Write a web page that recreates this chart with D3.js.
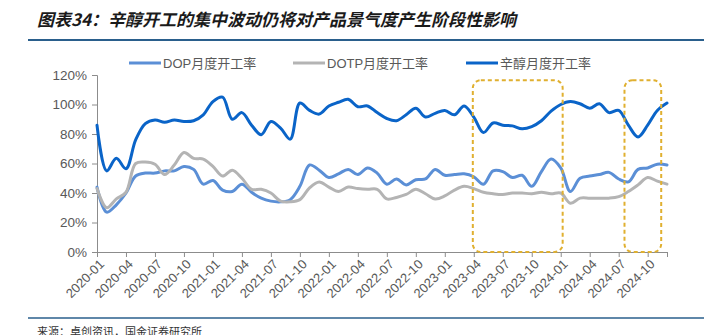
<!DOCTYPE html>
<html>
<head>
<meta charset="utf-8">
<script src="https://cdn.jsdelivr.net/npm/d3@7"></script>
<style>
  body { margin: 0; background: #fff; }
  svg { display: block; }
</style>
</head>
<body>
<div id="chart"></div>
<script>
// months 2020-01 .. 2024-12
const months = [
  "2020-01","2020-02","2020-03","2020-04","2020-05","2020-06","2020-07","2020-08","2020-09","2020-10","2020-11","2020-12",
  "2021-01","2021-02","2021-03","2021-04","2021-05","2021-06","2021-07","2021-08","2021-09","2021-10","2021-11","2021-12",
  "2022-01","2022-02","2022-03","2022-04","2022-05","2022-06","2022-07","2022-08","2022-09","2022-10","2022-11","2022-12",
  "2023-01","2023-02","2023-03","2023-04","2023-05","2023-06","2023-07","2023-08","2023-09","2023-10","2023-11","2023-12",
  "2024-01","2024-02","2024-03","2024-04","2024-05","2024-06","2024-07","2024-08","2024-09","2024-10","2024-11","2024-12"
];

const dop = [44, 27, 32, 40, 51.5, 53.5, 53.5, 55, 55, 58, 56, 46,
  48.5, 42, 41, 46, 40.5, 36.5, 34.5, 34, 35.5, 44.5, 59, 55.5,
  50.5, 53, 56, 52.5, 57, 53.5, 46, 49.5, 45.5, 49, 49.5, 56,
  52, 52.5, 53, 51, 46, 55, 54.5, 50.5, 52, 44.5, 54.5, 63,
  57, 41, 50, 51.5, 52.5, 54, 49.5, 47.5, 56, 57, 59.5, 59];

const dotp = [43, 30, 36, 40.5, 60, 61, 59.5, 52.5, 59, 67.5, 63.5, 63,
  58, 51.5, 55.5, 50, 42.5, 42.5, 40, 34.5, 34, 35.5, 43.5, 47.5,
  44, 41, 44, 43, 42.5, 42.5, 36, 37, 39, 42.5, 39.5, 36,
  38, 42, 44.5, 43, 40.5, 39.5, 39, 40, 40, 39.5, 40.5, 39.5,
  40, 33, 36.5, 36.5, 36.5, 36.5, 37.5, 41, 45.5, 50.5, 48, 46];

const octanol = [86, 55, 63.5, 56.5, 76, 87, 89.5, 88, 89.5, 88.5, 89, 93,
  102, 105, 90, 94.5, 86, 79.5, 88.5, 84, 76.5, 101, 96, 93.5,
  99, 101.5, 103.5, 98.5, 99, 94.5, 90.5, 89, 93, 97.5, 91.5, 94,
  96, 93, 99, 91.5, 81, 87.5, 86, 85.5, 83.5, 85, 89, 95.5,
  100, 102, 100.5, 97.5, 100.5, 94.5, 96, 86, 78, 86, 96, 101];

const seriesNames = ["DOP月度开工率", "DOTP月度开工率", "辛醇月度开工率"];
const seriesColors = ["#5b8fd6", "#b4b4b4", "#0a64c8"];
const yTicks = [0, 20, 40, 60, 80, 100, 120];
const xTickIdx = d3.range(0, 58, 3);

// highlighted periods: [start index, end index, bottom %, top %]
const boxes = [[38.9, 48.2, 0, 116.5], [54.6, 58.4, 0, 116.5]];

const W = 704, H = 335;
const margin = { top: 75, right: 37, bottom: 83, left: 97 };

const svg = d3.select("#chart").append("svg")
  .attr("width", W)
  .attr("height", H);

const x = d3.scaleLinear()
  .domain([0, months.length - 1])
  .range([margin.left, W - margin.right]);

const y = d3.scaleLinear()
  .domain([0, 120])
  .range([H - margin.bottom, margin.top]);

// title
svg.append("text")
  .attr("x", 37)
  .attr("y", 26)
  .attr("font-family", "'Noto Sans CJK SC', sans-serif")
  .attr("font-size", 17)
  .attr("font-weight", "bold")
  .attr("font-style", "italic")
  .attr("fill", "#1a1a1a")
  .text("图表34：辛醇开工的集中波动仍将对产品景气度产生阶段性影响");

svg.append("line")
  .attr("x1", 28).attr("x2", W)
  .attr("y1", 40).attr("y2", 40)
  .attr("stroke", "#2a5f8c")
  .attr("stroke-width", 2);

// axes
const yAxis = d3.axisLeft(y)
  .tickValues(yTicks)
  .tickFormat(d => d + "%")
  .tickSize(5);

svg.append("g")
  .attr("transform", `translate(${margin.left},0)`)
  .call(yAxis)
  .call(g => g.selectAll("path, line").attr("stroke", "#8c8c8c"))
  .call(g => g.selectAll("text")
    .attr("fill", "#595959")
    .attr("font-family", "'Liberation Sans', Arial, sans-serif")
    .attr("font-size", 13.5)
    .attr("dx", "-2"));

const xAxis = d3.axisBottom(x)
  .tickValues(xTickIdx.concat([months.length - 1]))
  .tickFormat(i => i < months.length - 1 ? months[i] : "")
  .tickSize(5)
  .tickSizeOuter(0);

svg.append("g")
  .attr("transform", `translate(0,${H - margin.bottom})`)
  .call(xAxis)
  .call(g => g.selectAll("path, line").attr("stroke", "#8c8c8c"))
  .call(g => g.selectAll("text")
    .attr("fill", "#595959")
    .attr("font-family", "'Liberation Sans', Arial, sans-serif")
    .attr("font-size", 13)
    .attr("text-anchor", "end")
    .attr("transform", "rotate(-45)")
    .attr("dx", "-0.3em")
    .attr("dy", "0.5em"));

// lines
const line = d3.line()
  .curve(d3.curveCatmullRom.alpha(0.5))
  .x((d, i) => x(i))
  .y(d => y(d));

const allSeries = [dop, dotp, octanol];

svg.append("g")
  .selectAll("path")
  .data(allSeries)
  .join("path")
  .attr("fill", "none")
  .attr("stroke", (d, i) => seriesColors[i])
  .attr("stroke-width", 3)
  .attr("stroke-linejoin", "round")
  .attr("stroke-linecap", "round")
  .attr("d", line);

// highlight boxes
svg.append("g")
  .selectAll("rect")
  .data(boxes)
  .join("rect")
  .attr("x", d => x(d[0]))
  .attr("y", d => y(d[3]))
  .attr("width", d => x(d[1]) - x(d[0]))
  .attr("height", d => y(d[2]) - y(d[3]))
  .attr("rx", 8)
  .attr("fill", "none")
  .attr("stroke", "#e0b030")
  .attr("stroke-width", 2)
  .attr("stroke-dasharray", "4,3");

// legend
const legendX = [129, 293, 466];
const legend = svg.append("g")
  .selectAll("g")
  .data(seriesNames)
  .join("g")
  .attr("transform", (d, i) => `translate(${legendX[i]},63)`);

legend.append("line")
  .attr("x1", 0).attr("x2", 32)
  .attr("stroke", (d, i) => seriesColors[i])
  .attr("stroke-width", 3);

legend.append("text")
  .attr("x", 34)
  .attr("dy", "0.35em")
  .attr("fill", "#595959")
  .attr("font-family", "'Liberation Sans', 'Noto Sans CJK SC', sans-serif")
  .attr("font-size", 13)
  .text(d => d);

// source
svg.append("line")
  .attr("x1", 28).attr("x2", W)
  .attr("y1", 318).attr("y2", 318)
  .attr("stroke", "#2a5f8c")
  .attr("stroke-width", 1.5);

svg.append("text")
  .attr("x", 37)
  .attr("y", 336)
  .attr("font-family", "'Noto Sans CJK SC', sans-serif")
  .attr("font-size", 11)
  .attr("fill", "#333")
  .text("来源：卓创资讯，国金证券研究所");
</script>
</body>
</html>
